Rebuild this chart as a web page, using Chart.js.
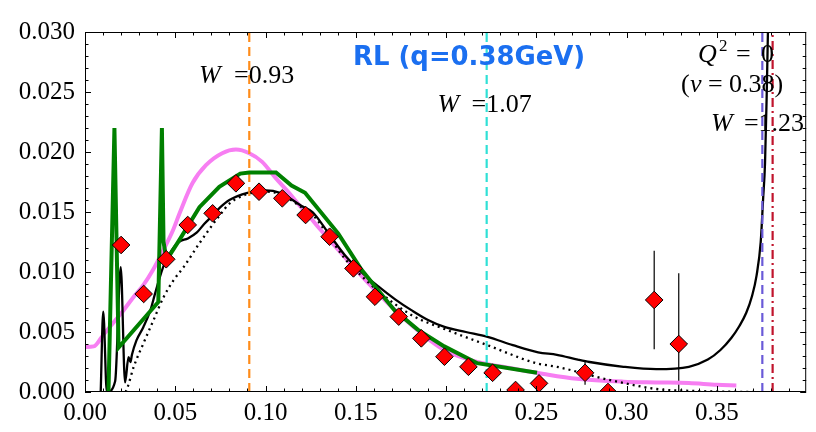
<!DOCTYPE html>
<html>
<head>
<meta charset="utf-8">
<script src="https://cdn.jsdelivr.net/npm/chart.js@4.4.0/dist/chart.umd.min.js"></script>
<style>
html, body { margin: 0; padding: 0; background: #fff; }
</style>
</head>
<body>
<canvas id="c" width="816" height="432"></canvas>
<script>
// axis ticks
const xTicks = [0, 0.05, 0.10, 0.15, 0.20, 0.25, 0.30, 0.35];
const yTicks = [0, 0.005, 0.010, 0.015, 0.020, 0.025, 0.030];

// black solid curve
const blackX = [0.0087, 0.0101, 0.0121, 0.0167, 0.0198, 0.0222, 0.0241, 0.0252, 0.026, 0.0285, 0.0323, 0.0362, 0.0388, 0.0415, 0.0443, 0.048, 0.052, 0.057, 0.062, 0.066, 0.07, 0.075, 0.08, 0.09, 0.1, 0.108, 0.115, 0.12, 0.126, 0.135, 0.144, 0.153, 0.1625, 0.172, 0.181, 0.19, 0.1995, 0.211, 0.223, 0.237, 0.251, 0.2614, 0.273, 0.2795, 0.2983, 0.3164, 0.3345, 0.345, 0.352, 0.358, 0.3625, 0.3663, 0.3695, 0.372, 0.3743, 0.3756, 0.3767, 0.3776, 0.3783, 0.3788];
const blackY = [0, 0.0067, 0, 0.0009, 0.0104, 0.0008, 0.0029, 0.0025, 0.0031, 0.0043, 0.0054, 0.0068, 0.0082, 0.0096, 0.0108, 0.0118, 0.0125, 0.0128, 0.0133, 0.014, 0.0146, 0.0154, 0.016, 0.0166, 0.0168, 0.0166, 0.016, 0.0155, 0.015, 0.0132, 0.0114, 0.01, 0.0088, 0.0077, 0.0068, 0.006, 0.0054, 0.005, 0.0046, 0.0039, 0.0033, 0.0031, 0.0027, 0.0025, 0.0021, 0.0019, 0.0021, 0.0027, 0.0035, 0.0045, 0.0055, 0.0066, 0.008, 0.0097, 0.0125, 0.016, 0.0191, 0.0246, 0.030, 0.034];

// black dotted curve
const dotX = [0.0225, 0.0236, 0.027, 0.0325, 0.038, 0.0435, 0.049, 0.0546, 0.0634, 0.07, 0.075, 0.08, 0.09, 0.1, 0.108, 0.12, 0.126, 0.135, 0.144, 0.153, 0.1625, 0.181, 0.2, 0.223, 0.25, 0.2614, 0.2723, 0.2795, 0.2983, 0.3164, 0.3345, 0.37];
const dotY = [0, 0.0004, 0.0021, 0.0041, 0.006, 0.0079, 0.0093, 0.0104, 0.0124, 0.0138, 0.0148, 0.0157, 0.0165, 0.0167, 0.0165, 0.0154, 0.0148, 0.013, 0.0111, 0.0097, 0.0084, 0.0064, 0.0052, 0.0039, 0.0024, 0.0021, 0.0017, 0.0014, 0.00075, 0.00025, 0.0001, 0];

// pink curve
const pinkX = [0, 0.0048, 0.0103, 0.0158, 0.0213, 0.0268, 0.0323, 0.0378, 0.0433, 0.0488, 0.0524, 0.0595, 0.067, 0.076, 0.0836, 0.091, 0.098, 0.1058, 0.113, 0.1185, 0.125, 0.13, 0.14, 0.15, 0.16, 0.1733, 0.1862, 0.199, 0.2173, 0.2355, 0.2542, 0.2724, 0.2983, 0.3164, 0.3345, 0.35, 0.3608];
const pinkY = [0.00375, 0.0038, 0.0048, 0.0058, 0.0068, 0.0079, 0.0089, 0.0102, 0.0118, 0.0135, 0.0149, 0.0174, 0.0189, 0.0199, 0.0202, 0.0199, 0.0192, 0.0178, 0.0166, 0.0156, 0.0145, 0.0136, 0.0119, 0.0102, 0.0086, 0.0066, 0.0049, 0.0035, 0.0025, 0.002, 0.0015, 0.0011, 0.00086, 0.0008, 0.00075, 0.0006, 0.00055];

// green curve
const greenX = [0.013, 0.0163, 0.0186, 0.0406, 0.0426, 0.0435, 0.0452, 0.0524, 0.0634, 0.0744, 0.086, 0.091, 0.1058, 0.1144, 0.1219, 0.1403, 0.1531, 0.1715, 0.1843, 0.199, 0.2173, 0.2504];
const greenY = [0, 0.022, 0.0037, 0.0075, 0.022, 0.0125, 0.011, 0.0127, 0.0154, 0.0171, 0.0182, 0.0183, 0.0183, 0.0172, 0.0166, 0.0132, 0.0102, 0.0068, 0.0052, 0.0038, 0.0024, 0.0016];

// data points (red diamonds) with errors
const ptX = [0.020, 0.0325, 0.045, 0.0569, 0.0707, 0.0836, 0.0964, 0.1093, 0.1222, 0.1355, 0.1487, 0.1606, 0.1738, 0.1863, 0.1991, 0.2124, 0.2258, 0.2385, 0.2515, 0.277, 0.2897, 0.3153, 0.3289];
const ptY = [0.01225, 0.00817, 0.01106, 0.01392, 0.01489, 0.01739, 0.01669, 0.01614, 0.01475, 0.01294, 0.0103, 0.00794, 0.00628, 0.00447, 0.00294, 0.0021, 0.0016, 0.00017, 0.00072, 0.0016, 0.0, 0.00767, 0.004];
const ptErr = [0, 0, 0, 0, 0, 0, 0, 0, 0, 0, 0, 0, 0, 0, 0, 0, 0, 0, 0, 0.001, 0, 0.0041, 0.0059];

// vertical reference lines
const vlineX = [0.091, 0.2225, 0.3752, 0.3809];
const vlineColor = ['#ff8c1a', '#2fe0d6', '#6a5ad8', '#c0142c'];
const vlineDash = [[9, 5], [9, 5], [9, 5], [9, 4, 2, 4]];

// annotations (anchor in data coords)
const annX = [0.0632, 0.1953, 0.3396, 0.3302, 0.3467];
const annY = [0.02575, 0.02333, 0.0275, 0.025, 0.02175];
const titleX = 0.1485, titleY = 0.02725;

const serif = 'Liberation Serif';
const fR = '26px "' + serif + '"';
const fI = 'italic 26px "' + serif + '"';
const annPieces = [
  [['W', fI, 0], ['=0.93', fR, 35]],
  [['W', fI, 0], ['=1.07', fR, 34]],
  [['Q', fI, 0], ['2', '17px "' + serif + '"', 21, -11], ['=', fR, 38], ['0', fR, 63]],
  [['(', fR, 0], ['\u03bd', fI, 9], ['=', fR, 27], ['0.38)', fR, 48]],
  [['W', fI, 0], ['=1.23', fR, 33]]
];

const xy = (xs, ys) => xs.map((v, i) => ({x: v, y: ys[i]}));

const datasets = [
  {
    label: 'data', data: xy(ptX, ptY), showLine: false, order: 0,
    pointStyle: 'rectRot', pointRadius: 8.8, pointHoverRadius: 8.8,
    backgroundColor: '#ff0000', borderColor: '#000', pointBorderWidth: 1, clip: 0
  },
  {
    label: 'green', data: xy(greenX, greenY), borderColor: '#008000', borderWidth: 4,
    pointRadius: 0, tension: 0, order: 1, clip: 0
  }
];
vlineX.forEach((v, i) => {
  datasets.push({
    label: 'v' + i, data: [{x: v, y: 0}, {x: v, y: 0.03}], borderColor: vlineColor[i],
    borderWidth: 2.2, borderDash: vlineDash[i], pointRadius: 0, order: 2, clip: 0
  });
});
datasets.push(
  {
    label: 'black', data: xy(blackX, blackY), borderColor: '#000', borderWidth: 2.3,
    pointRadius: 0, cubicInterpolationMode: 'monotone', order: 3, clip: 0
  },
  {
    label: 'dotted', data: xy(dotX, dotY), borderColor: '#000', borderWidth: 2.3,
    borderDash: [2, 4], pointRadius: 0, cubicInterpolationMode: 'monotone', order: 4, clip: 0
  },
  {
    label: 'pink', data: xy(pinkX, pinkY), borderColor: '#f77ef2', borderWidth: 4,
    pointRadius: 0, cubicInterpolationMode: 'monotone', order: 5, clip: 0
  }
);

const decor = {
  id: 'decor',
  beforeDatasetsDraw(chart) {
    // error bars
    const {ctx, chartArea: a, scales: {x, y}} = chart;
    ctx.save();
    ctx.beginPath();
    ctx.rect(a.left, a.top, a.right - a.left, a.bottom - a.top);
    ctx.clip();
    ctx.strokeStyle = '#000';
    ctx.lineWidth = 1.2;
    ptX.forEach((v, i) => {
      if (!ptErr[i]) return;
      const px = x.getPixelForValue(v);
      ctx.beginPath();
      ctx.moveTo(px, y.getPixelForValue(ptY[i] - ptErr[i]));
      ctx.lineTo(px, y.getPixelForValue(ptY[i] + ptErr[i]));
      ctx.stroke();
    });
    ctx.restore();
  },
  afterDatasetsDraw(chart) {
    const {ctx, chartArea: a, scales: {x, y}} = chart;
    ctx.save();
    ctx.strokeStyle = '#000';
    ctx.lineWidth = 1;
    ctx.strokeRect(a.left + 0.5, a.top + 0.5, a.right - a.left - 1, a.bottom - a.top - 1);
    ctx.beginPath();
    for (let k = 0; k <= 40; k++) {
      const v = k * 0.01;
      if (v > x.max) break;
      const len = k % 5 === 0 ? 6 : 3.5;
      const px = Math.round(x.getPixelForValue(v)) + 0.5;
      ctx.moveTo(px, a.bottom); ctx.lineTo(px, a.bottom - len);
      ctx.moveTo(px, a.top); ctx.lineTo(px, a.top + len);
    }
    for (let k = 0; k <= 30; k++) {
      const v = k * 0.001;
      const len = k % 5 === 0 ? 6 : 3.5;
      const py = Math.round(y.getPixelForValue(v)) + 0.5;
      ctx.moveTo(a.left, py); ctx.lineTo(a.left + len, py);
      ctx.moveTo(a.right, py); ctx.lineTo(a.right - len, py);
    }
    ctx.stroke();
    ctx.restore();
  },
  afterDraw(chart) {
    const {ctx, scales: {x, y}} = chart;
    ctx.save();
    ctx.fillStyle = '#000';
    ctx.textBaseline = 'alphabetic';
    ctx.textAlign = 'left';
    annPieces.forEach((pieces, i) => {
      const px = x.getPixelForValue(annX[i]);
      const py = y.getPixelForValue(annY[i]);
      pieces.forEach(p => {
        ctx.font = p[1];
        ctx.fillText(p[0], px + p[2], py + (p[3] || 0));
      });
    });
    // title
    const t = 'RL (q=0.38GeV)';
    let size = 26;
    ctx.font = 'bold ' + size + 'px "DejaVu Sans"';
    size = size * 232 / ctx.measureText(t).width;
    ctx.font = 'bold ' + size.toFixed(1) + 'px "DejaVu Sans"';
    ctx.fillStyle = '#1b6ff0';
    ctx.fillText(t, x.getPixelForValue(titleX), y.getPixelForValue(titleY));
    ctx.restore();
  }
};

new Chart(document.getElementById('c'), {
  type: 'line',
  data: {datasets},
  options: {
    responsive: false,
    animation: false,
    devicePixelRatio: 1,
    layout: {padding: {top: 32, right: 4, left: 0, bottom: 0}},
    plugins: {legend: {display: false}, tooltip: {enabled: false}},
    scales: {
      x: {
        type: 'linear', min: 0, max: 0.3995,
        afterBuildTicks: s => { s.ticks = xTicks.map(v => ({value: v})); },
        afterFit: s => { s.height = 40; },
        grid: {display: false, drawTicks: false},
        border: {display: false},
        ticks: {
          callback: v => v.toFixed(2), color: '#000', padding: 6,
          maxRotation: 0, autoSkip: false, font: {family: serif, size: 25}
        }
      },
      y: {
        type: 'linear', min: 0, max: 0.03,
        afterBuildTicks: s => { s.ticks = yTicks.map(v => ({value: v})); },
        afterFit: s => { s.width = 85; },
        grid: {display: false, drawTicks: false},
        border: {display: false},
        ticks: {
          callback: v => v.toFixed(3), color: '#000', padding: 10,
          autoSkip: false, font: {family: serif, size: 25}
        }
      }
    }
  },
  plugins: [decor]
});
</script>
</body>
</html>
